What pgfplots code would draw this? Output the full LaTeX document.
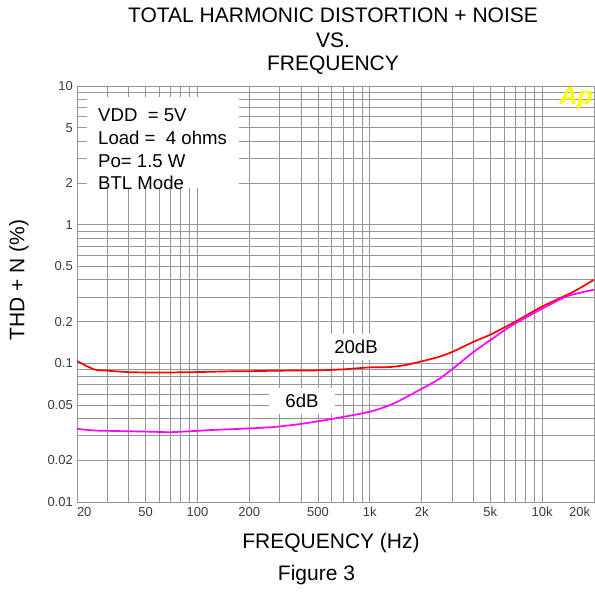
\documentclass[border=0pt]{standalone}
\usepackage{pgfplots}
\pgfplotsset{compat=1.18}
\usepackage{fontspec}
\setmainfont{Liberation Sans}
\definecolor{gridgray}{RGB}{150,150,150}
\definecolor{tickgray}{RGB}{60,60,60}
\definecolor{curvered}{RGB}{255,0,0}
\definecolor{curvemag}{RGB}{255,0,255}
\definecolor{apyellow}{RGB}{255,255,0}
\begin{document}
\begin{tikzpicture}
\begin{axis}[
 scale only axis, width=517bp, height=416bp,
 xmode=log, ymode=log, xmin=20, xmax=20000, ymin=0.01, ymax=10,
 xtick={20,50,100,200,500,1000,2000,5000,10000,20000},
 xticklabels={\makebox[0pt][l]{20},50,100,200,500,1k,2k,5k,10k,\makebox[0pt][r]{20k\hspace{4bp}}},
 minor xtick={30,40,60,70,80,90,300,400,600,700,800,900,3000,4000,6000,7000,8000,9000},
 ytick={0.01,0.02,0.05,0.1,0.2,0.5,1,2,5,10},
 yticklabels={0.01,0.02,0.05,0.1,0.2,0.5,1,2,5,10},
 minor ytick={0.03,0.04,0.06,0.07,0.08,0.09,0.3,0.4,0.6,0.7,0.8,0.9,3,4,6,7,8,9},
 grid=both,
 major grid style={gridgray, line width=0.8bp},
 minor grid style={gridgray, line width=0.8bp},
 axis line style={gridgray, line width=0.8bp},
 major tick length=0pt, minor tick length=0pt,
 tick label style={font=\fontsize{13bp}{15bp}\selectfont, text=tickgray},
 xticklabel style={anchor=north, inner sep=0pt, yshift=-5bp},
 yticklabel style={anchor=east, inner sep=0pt, xshift=-4bp},
]
\addplot[curvered, line width=1.7bp, smooth, tension=0.4] coordinates {
(20,0.104) (25,0.0906) (30,0.0885) (40,0.0864) (50,0.086) (70,0.086)
(100,0.0865) (150,0.0875) (200,0.0878) (300,0.0885) (400,0.0888) (500,0.089)
(700,0.0905) (1000,0.0935) (1300,0.094) (1600,0.097) (2000,0.1034) (2500,0.111)
(3000,0.1207) (4000,0.143) (5000,0.1609) (7000,0.20) (10000,0.2567)
(15000,0.3258) (20000,0.40)};
\addplot[curvemag, line width=1.7bp, smooth, tension=0.4] coordinates {
(20,0.0337) (25,0.0328) (30,0.0326) (50,0.0322) (70,0.0319) (100,0.0326)
(123,0.0331) (177,0.0337) (274,0.0347) (394,0.0365) (588,0.0395) (1000,0.0448)
(1365,0.0511) (2000,0.0655) (2500,0.0765) (3000,0.0905) (3975,0.120) (5000,0.147)
(6780,0.19) (10000,0.2477) (13960,0.3047) (20000,0.34)};
\end{axis}
% legend box
\fill[white] (10bp,405bp) rectangle (162bp,314bp);
\begin{scope}[every node/.style={inner sep=0pt, anchor=west, font=\fontsize{18.6bp}{22bp}\selectfont}]
\node at (21bp,387bp) {VDD\ \ = 5V};
\node at (21bp,364bp) {Load =\ \ 4 ohms};
\node at (21bp,341bp) {Po= 1.5 W};
\node at (21bp,319bp) {BTL Mode};
\end{scope}
% curve labels
\node[fill=white, inner xsep=15bp, inner ysep=6bp, font=\fontsize{18.6bp}{22bp}\selectfont] at (279bp,155bp) {20dB};
\node[fill=white, inner xsep=16bp, inner ysep=6bp, font=\fontsize{18.6bp}{22bp}\selectfont] at (225bp,101bp) {6dB};
% Ap logo
\node[inner sep=0pt, text=apyellow, font=\fontsize{25bp}{28bp}\selectfont\bfseries\itshape] at (499bp,404bp) {Ap};
% titles
\begin{scope}[every node/.style={inner sep=0pt, font=\fontsize{21bp}{25bp}\selectfont}]
\node at (256bp,487bp) {TOTAL HARMONIC DISTORTION + NOISE};
\node at (256bp,462bp) {VS.};
\node at (256bp,437bp) {FREQUENCY};
\node at (254bp,-41bp) {FREQUENCY (Hz)};
\node at (239.5bp,-73bp) {Figure 3};
\node[rotate=90] at (-58bp,222bp) {THD + N (\%)};
\end{scope}
\pgfresetboundingbox
\useasboundingbox (-77bp,-91bp) rectangle (518bp,502bp);
\end{tikzpicture}
\end{document}
